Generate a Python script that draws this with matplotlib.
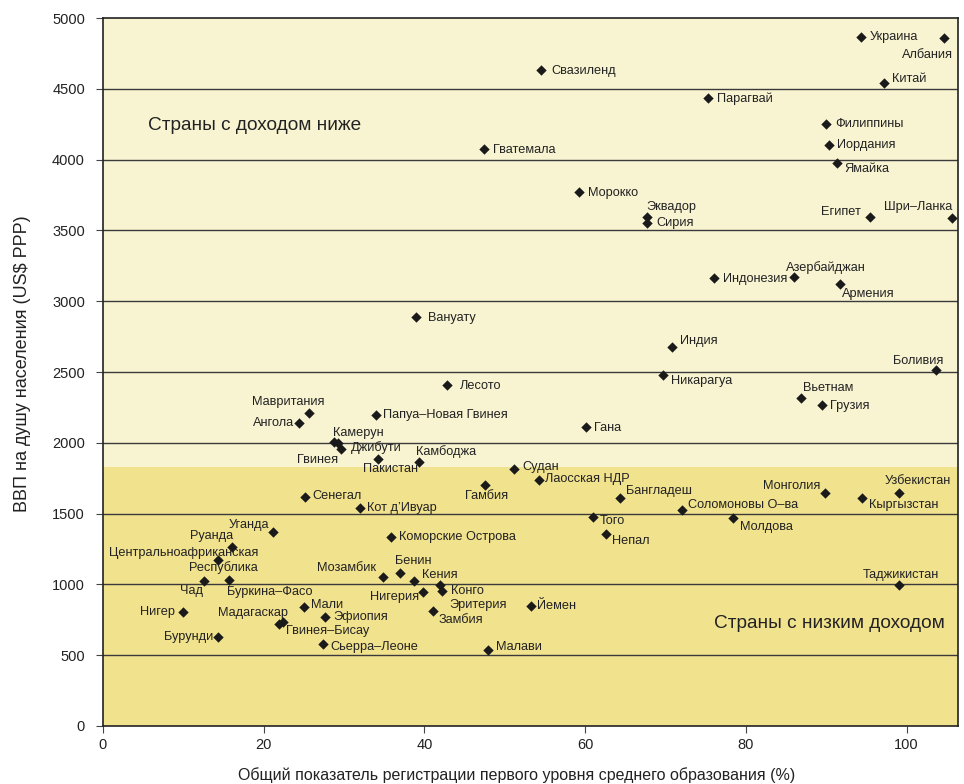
import matplotlib.pyplot as plt

# Данные: страна, охват средним образованием (%), ВВП на душу (US$ PPP)
countries = ["Украина", "Албания", "Китай", "Свазиленд", "Парагвай", "Филиппины",
             "Иордания", "Ямайка", "Гватемала", "Морокко", "Эквадор", "Сирия",
             "Египет", "Шри–Ланка", "Индонезия", "Азербайджан", "Армения", "Вануату",
             "Индия", "Боливия", "Лесото", "Никарагуа", "Вьетнам", "Грузия",
             "Мавритания", "Ангола", "Папуа–Новая Гвинея", "Гана", "Камерун", "Гвинея",
             "Джибути", "Пакистан", "Камбоджа", "Судан", "Лаосская НДР", "Гамбия",
             "Бангладеш", "Соломоновы О–ва", "Того", "Непал", "Молдова", "Сенегал",
             "Кот д’Ивуар", "Уганда", "Руанда", "Центральноафриканская\nРеспублика",
             "Чад", "Буркина–Фасо", "Нигер", "Бурунди", "Мали", "Мадагаскар",
             "Гвинея–Бисау", "Эфиопия", "Сьерра–Леоне", "Мозамбик", "Бенин", "Кения",
             "Нигерия", "Коморские Острова", "Конго", "Эритерия", "Замбия", "Йемен",
             "Малави", "Монголия", "Кыргызстан", "Узбекистан", "Таджикистан"]
enrolment = [94.3, 104.6, 97.2, 54.5, 75.3, 90.0,
             90.4, 91.4, 47.4, 59.2, 67.7, 67.7,
             95.5, 105.6, 76.0, 86.0, 91.7, 38.9,
             70.8, 103.6, 42.8, 69.7, 86.9, 89.5,
             25.7, 24.4, 34.0, 60.1, 29.2, 28.7,
             29.6, 34.2, 39.3, 51.2, 54.2, 47.6,
             64.3, 72.1, 61.0, 62.6, 78.4, 25.2,
             32.0, 21.1, 16.1, 14.3,
             12.6, 15.7, 9.9, 14.3, 25.0, 22.4,
             21.9, 27.6, 27.4, 34.8, 37.0, 38.7,
             39.8, 35.9, 42.2, 42.0, 41.1, 53.3,
             47.9, 89.9, 94.4, 99.1, 99.0]
gdp = [4867, 4856, 4540, 4633, 4432, 4251,
       4104, 3977, 4075, 3771, 3595, 3552,
       3593, 3586, 3162, 3174, 3121, 2888,
       2677, 2513, 2408, 2479, 2315, 2268,
       2210, 2140, 2196, 2112, 1998, 2008,
       1954, 1883, 1866, 1817, 1735, 1704,
       1610, 1528, 1476, 1354, 1471, 1615,
       1542, 1370, 1262, 1172,
       1026, 1033, 803, 631, 838, 732,
       718, 768, 579, 1052, 1083, 1022,
       946, 1337, 953, 998, 812, 845,
       537, 1645, 1608, 1648, 996]

low_income_limit = 1830

# смещения подписей в пикселях: (dx, dy, выравнивание)
offsets = {
    "Украина": (9, 0, "left"), "Албания": (9, -17, "right"), "Китай": (8, 4, "left"),
    "Свазиленд": (10, -1, "left"), "Парагвай": (9, 0, "left"), "Филиппины": (9, 0, "left"),
    "Иордания": (8, 0, "left"), "Ямайка": (7, -6, "left"), "Гватемала": (9, -1, "left"),
    "Морокко": (9, -1, "left"), "Эквадор": (-1, 10, "left"), "Сирия": (9, 0, "left"),
    "Египет": (-10, 5, "right"), "Шри–Ланка": (1, 11, "right"), "Индонезия": (9, -1, "left"),
    "Азербайджан": (-8, 9, "left"), "Армения": (2, -10, "left"), "Вануату": (12, -1, "left"),
    "Индия": (8, 6, "left"), "Боливия": (8, 9, "right"), "Лесото": (13, -1, "left"),
    "Никарагуа": (8, -6, "left"), "Вьетнам": (2, 10, "left"), "Грузия": (8, -1, "left"),
    "Мавритания": (15, 11, "right"), "Ангола": (-5, 0, "right"),
    "Папуа–Новая Гвинея": (7, 0, "left"), "Гана": (8, -1, "left"),
    "Камерун": (-5, 10, "left"), "Гвинея": (5, -18, "right"), "Джибути": (10, 2, "left"),
    "Пакистан": (13, -10, "center"), "Камбоджа": (-3, 10, "left"), "Судан": (8, 2, "left"),
    "Лаосская НДР": (6, 1, "left"), "Гамбия": (1, -11, "center"), "Бангладеш": (6, 7, "left"),
    "Соломоновы О–ва": (6, 5, "left"), "Того": (7, -4, "left"), "Непал": (6, -7, "left"),
    "Молдова": (7, -9, "left"), "Сенегал": (7, 1, "left"), "Кот д’Ивуар": (7, 0, "left"),
    "Уганда": (-3, 7, "right"), "Руанда": (1, 11, "right"),
    "Центральноафриканская\nРеспублика": (40, 0, "right"),
    "Чад": (-1, -10, "right"), "Буркина–Фасо": (-2, -12, "left"), "Нигер": (-8, 0, "right"),
    "Бурунди": (-5, 0, "right"), "Мали": (7, 2, "left"), "Мадагаскар": (5, 9, "right"),
    "Гвинея–Бисау": (7, -7, "left"), "Эфиопия": (9, 0, "left"), "Сьерра–Леоне": (7, -3, "left"),
    "Мозамбик": (-7, 9, "right"), "Бенин": (-5, 12, "left"), "Кения": (8, 6, "left"),
    "Нигерия": (-4, -5, "right"), "Коморские Острова": (8, 0, "left"), "Конго": (9, 0, "left"),
    "Эритерия": (9, -20, "left"), "Замбия": (5, -9, "left"), "Йемен": (6, 0, "left"),
    "Малави": (8, 3, "left"), "Монголия": (-5, 7, "right"), "Кыргызстан": (7, -7, "left"),
    "Узбекистан": (18, 12, "center"), "Таджикистан": (2, 10, "center"),
}

plt.rcParams['font.family'] = ["Liberation Sans", "DejaVu Sans"]

fig = plt.figure(figsize=(9.64, 7.84), dpi=100)
ax = fig.add_axes([0.1068, 0.074, 0.887, 0.903])

ax.axhspan(0, low_income_limit, color="#f1e28e", zorder=0, lw=0)
ax.axhspan(low_income_limit, 5000, color="#f8f4d2", zorder=0, lw=0)
for yv in range(500, 5000, 500):
    ax.axhline(yv, color="#3a3a3a", lw=1, zorder=1)

ax.scatter(enrolment, gdp, marker="D", s=28, color="#1a1a1a", zorder=3, lw=0)

for name, xv, yv in zip(countries, enrolment, gdp):
    dx, dy, ha = offsets[name]
    ax.annotate(name, (xv, yv), xytext=(dx, dy), textcoords="offset pixels",
                ha=ha, va="center", fontsize=9.2, color="#222222", zorder=4,
                multialignment="right")

ax.text(148 / 964, 1 - 125 / 784, "Страны с доходом ниже", transform=fig.transFigure,
        fontsize=13.7, color="#222222", va="center", ha="left")
ax.text(945 / 964, 1 - 624 / 784, "Страны с низким доходом", transform=fig.transFigure,
        fontsize=13.7, color="#222222", va="center", ha="right")

ax.set_xlim(0, 106.4)
ax.set_ylim(0, 5000)
ax.set_xticks(range(0, 101, 20))
ax.set_yticks(range(0, 5001, 500))
for s in ax.spines.values():
    s.set_color("#222222")
    s.set_linewidth(1.2)
ax.tick_params(direction="out", length=5, color="#444444", labelsize=10.5,
               labelcolor="#222222")
ax.tick_params(axis="x", pad=4)
ax.tick_params(axis="y", pad=8)
ax.set_xlabel("Общий показатель регистрации первого уровня среднего образования (%)",
              fontsize=11.5, color="#222222", va="center")
ax.xaxis.set_label_coords((517 - 103) / 855, (726 - 775) / 708)
ax.set_ylabel("ВВП на душу населения (US$ PPP)", fontsize=13, color="#222222",
              va="center")
ax.yaxis.set_label_coords((23 - 103) / 855, (726 - 364) / 708)

fig.savefig("out.png", dpi=100)
